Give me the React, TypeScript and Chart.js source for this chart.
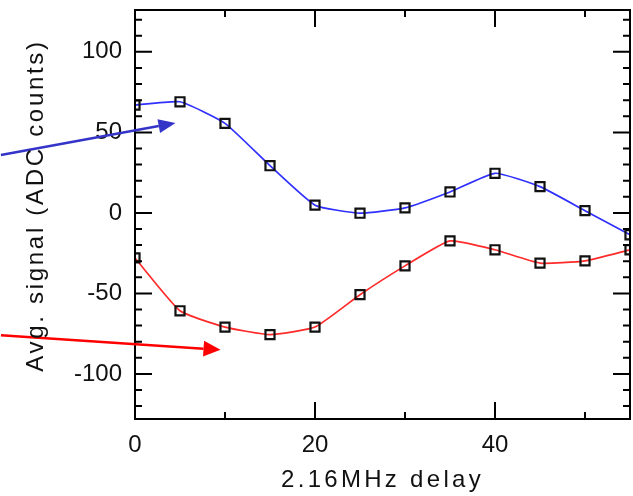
import React, { useEffect, useRef } from "react";
import { Chart, registerables } from "chart.js";

Chart.register(...registerables);

// ---- data ----
const delays = [0, 5, 10, 15, 20, 25, 30, 35, 40, 45, 50, 55];
const blueSignal = [67, 69, 55.6, 29.3, 4.8, -0.2, 3.1, 13, 24.6, 16.3, 1.4, -13.6];
const redSignal = [-28, -60.8, -70.9, -75.6, -70.9, -50.8, -32.9, -17.4, -22.9, -31.2, -29.8, -22.9];
const xTickValues = [0, 20, 40];
const yTickValues = [-100, -50, 0, 50, 100];
const xRange = [0, 55];
const yRange = [-128, 126];
const xMinorStep = 10;
const yMinorStep = 10;
const blueArrow = [[-14.9, 36], [4.5, 55.8]];
const redArrow = [[-14.9, -76], [9.5, -85]];
const xTitle = "2.16MHz delay";
const yTitle = "Avg. signal (ADC counts)";

const FONT = "'Liberation Sans', Arial, Helvetica, sans-serif";

function drawArrow(ctx: CanvasRenderingContext2D, x0: number, y0: number, x1: number, y1: number, color: string, headLen: number, headHalf: number, lw: number) {
  const ang = Math.atan2(y1 - y0, x1 - x0);
  const bx = x1 - headLen * Math.cos(ang);
  const by = y1 - headLen * Math.sin(ang);
  ctx.strokeStyle = color;
  ctx.fillStyle = color;
  ctx.lineWidth = lw;
  ctx.beginPath();
  ctx.moveTo(x0, y0);
  ctx.lineTo(bx, by);
  ctx.stroke();
  ctx.beginPath();
  ctx.moveTo(x1, y1);
  ctx.lineTo(bx + headHalf * Math.sin(ang), by - headHalf * Math.cos(ang));
  ctx.lineTo(bx - headHalf * Math.sin(ang), by + headHalf * Math.cos(ang));
  ctx.closePath();
  ctx.fill();
}

const framePlugin = {
  id: "frame",
  afterDatasetsDraw(chart: any) {
    const { ctx, chartArea: a, scales } = chart;
    const x = scales.x;
    const y = scales.y;
    ctx.save();
    ctx.strokeStyle = "#000";
    ctx.lineWidth = 2;
    ctx.beginPath();
    for (let v = Math.ceil(x.min / xMinorStep) * xMinorStep; v <= x.max; v += xMinorStep) {
      const px = x.getPixelForValue(v);
      const len = v % 20 === 0 ? 17 : 7;
      ctx.moveTo(px, a.bottom);
      ctx.lineTo(px, a.bottom - len);
      ctx.moveTo(px, a.top);
      ctx.lineTo(px, a.top + len);
    }
    for (let v = Math.ceil(y.min / yMinorStep) * yMinorStep; v <= y.max; v += yMinorStep) {
      const py = y.getPixelForValue(v);
      const len = v % 50 === 0 ? 17 : 7;
      ctx.moveTo(a.left, py);
      ctx.lineTo(a.left + len, py);
      ctx.moveTo(a.right, py);
      ctx.lineTo(a.right - len, py);
    }
    ctx.stroke();
    ctx.strokeRect(a.left, a.top, a.right - a.left, a.bottom - a.top);

    drawArrow(
      ctx,
      x.getPixelForValue(blueArrow[0][0]), y.getPixelForValue(blueArrow[0][1]),
      x.getPixelForValue(blueArrow[1][0]), y.getPixelForValue(blueArrow[1][1]),
      "#3434c8", 17, 7, 2.5
    );
    drawArrow(
      ctx,
      x.getPixelForValue(redArrow[0][0]), y.getPixelForValue(redArrow[0][1]),
      x.getPixelForValue(redArrow[1][0]), y.getPixelForValue(redArrow[1][1]),
      "#ff0000", 17, 8, 2.5
    );

    // axis titles
    ctx.fillStyle = "#111";
    ctx.font = `24px ${FONT}`;
    ctx.textAlign = "center";
    ctx.textBaseline = "alphabetic";
    (ctx as any).letterSpacing = "3.3px";
    ctx.fillText(xTitle, (a.left + a.right) / 2, 487);
    (ctx as any).letterSpacing = "2.7px";
    ctx.translate(43, (a.top + a.bottom) / 2 - 9);
    ctx.rotate(-Math.PI / 2);
    ctx.fillText(yTitle, 0, 0);
    ctx.restore();
  },
};

export default function App() {
  const ref = useRef<HTMLCanvasElement | null>(null);
  useEffect(() => {
    if (!ref.current) return;
    const mk = (vals: number[]) => delays.map((d, i) => ({ x: d, y: vals[i] }));
    const common = {
      borderWidth: 1.7,
      tension: 0.15,
      pointStyle: "rect",
      pointRadius: 6.4,
      pointBorderColor: "#111",
      pointBorderWidth: 2.2,
      pointBackgroundColor: "rgba(255,255,255,0)",
      showLine: true,
      fill: false,
    };
    const chart = new Chart(ref.current, {
      type: "line",
      data: {
        datasets: [
          { ...common, data: mk(blueSignal), borderColor: "#3030ff" } as any,
          { ...common, data: mk(redSignal), borderColor: "#ff2a2a" } as any,
        ],
      },
      options: {
        responsive: false,
        animation: false,
        devicePixelRatio: 1,
        events: [],
        layout: { autoPadding: false, padding: { top: 10, right: 3, left: 0, bottom: 0 } },
        plugins: { legend: { display: false }, tooltip: { enabled: false }, title: { display: false } },
        scales: {
          x: {
            type: "linear",
            min: xRange[0],
            max: xRange[1],
            grid: { display: false, drawTicks: false },
            border: { display: false },
            afterBuildTicks: (s: any) => {
              s.ticks = xTickValues.map((v) => ({ value: v }));
            },
            afterFit: (s: any) => {
              s.height = 77;
              s.paddingLeft = 0;
              s.paddingRight = 0;
              s.paddingTop = 0;
              s.paddingBottom = 0;
            },
            ticks: {
              color: "#111",
              padding: 12,
              maxRotation: 0,
              autoSkip: false,
              font: { size: 24, family: FONT },
            },
          },
          y: {
            type: "linear",
            min: yRange[0],
            max: yRange[1],
            grid: { display: false, drawTicks: false },
            border: { display: false },
            afterBuildTicks: (s: any) => {
              s.ticks = yTickValues.map((v) => ({ value: v }));
            },
            afterFit: (s: any) => {
              s.width = 135;
              s.paddingLeft = 0;
              s.paddingRight = 0;
              s.paddingTop = 0;
              s.paddingBottom = 0;
            },
            ticks: {
              color: "#111",
              padding: 13,
              autoSkip: false,
              font: { size: 24, family: FONT },
            },
          },
        },
      },
      plugins: [framePlugin],
    } as any);
    return () => chart.destroy();
  }, []);
  return (
    <div style={{ position: "fixed", left: 0, top: 0, width: 633, height: 496, background: "#fff" }}>
      <canvas ref={ref} width={633} height={496} style={{ display: "block" }} />
    </div>
  );
}
